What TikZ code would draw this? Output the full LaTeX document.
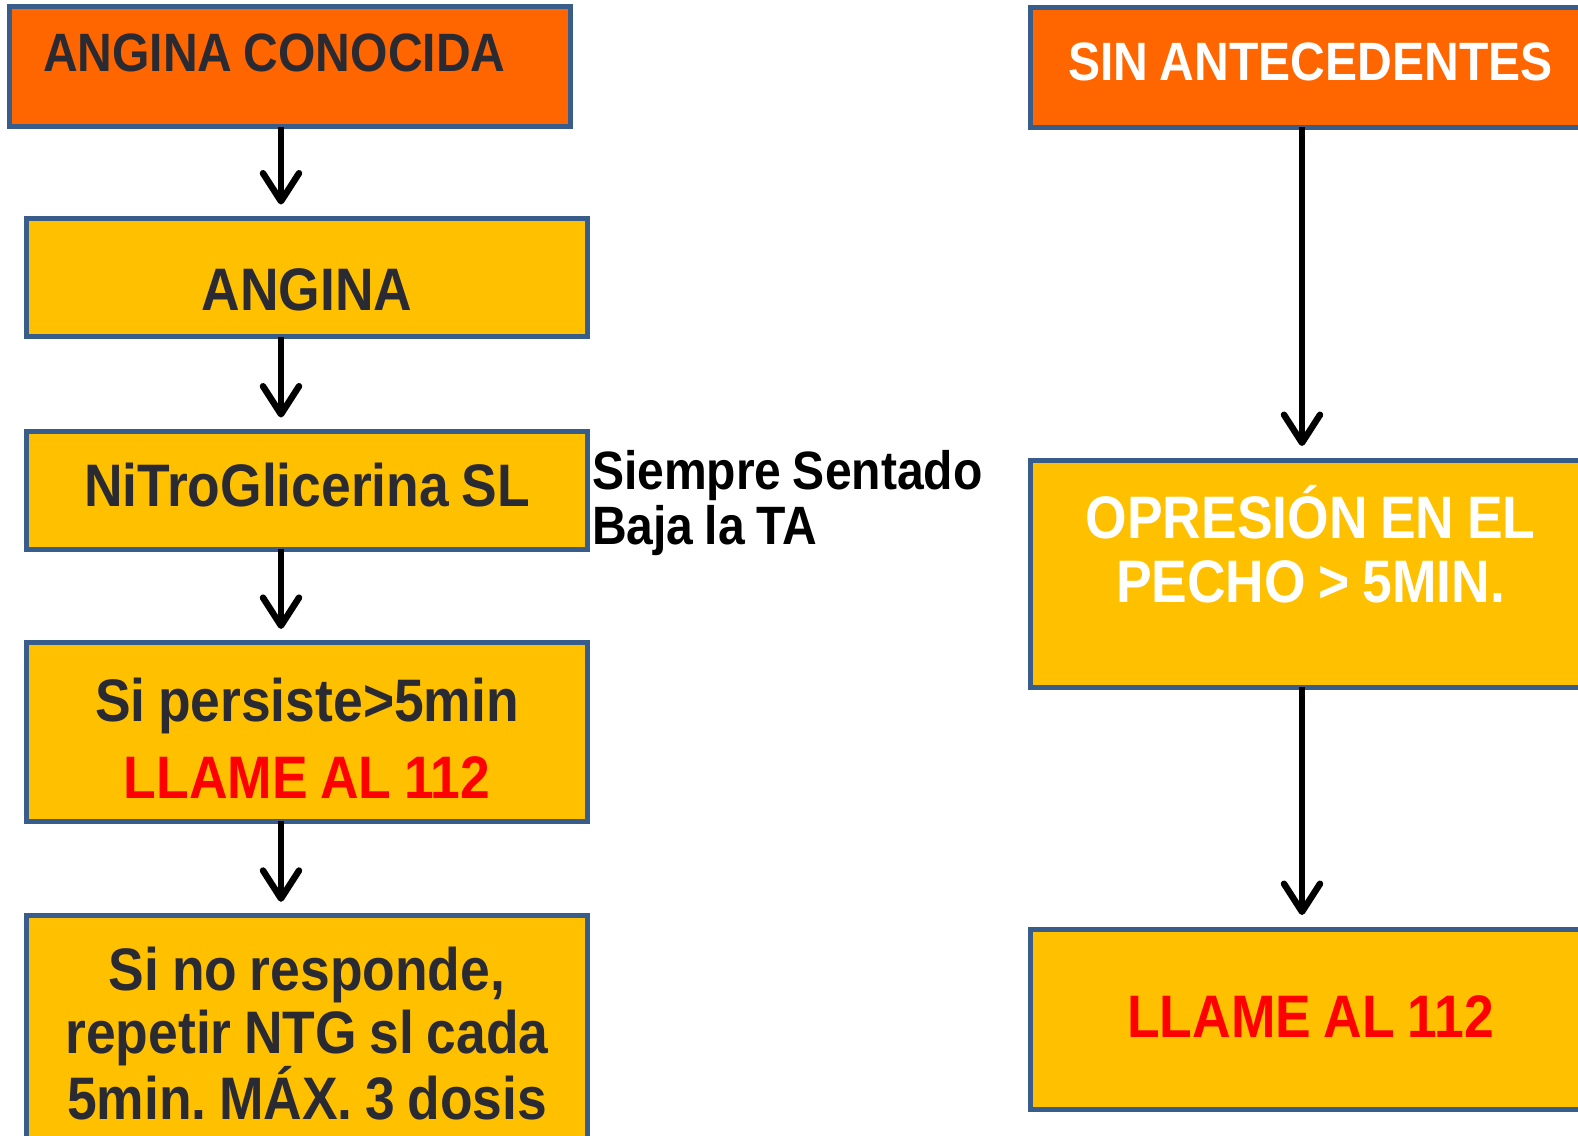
\documentclass[tikz,border=0pt]{standalone}
\usepackage{fontspec}
\setmainfont{Liberation Sans}[FakeStretch=0.89,WordSpace=0.85]
\usetikzlibrary{arrows.meta}
\frenchspacing
\definecolor{orangefill}{HTML}{FF6600}
\definecolor{yellowfill}{HTML}{FFC000}
\definecolor{bordercol}{HTML}{385D8A}
\definecolor{darktxt}{HTML}{2A2A33}
\definecolor{alertred}{HTML}{FF0000}
\newcommand{\Stup}[1]{\rule{0pt}{#1}}
\newcommand{\Stdn}[1]{\rule[-#1]{0pt}{#1}}
\tikzset{
  box/.style={draw=bordercol, line width=5pt, minimum width=561pt, inner sep=0pt, outer sep=0pt,
    align=center, text=darktxt, font=\bfseries\fontsize{60}{63}\selectfont},
  orangebox/.style={box, fill=orangefill},
  yellowbox/.style={box, fill=yellowfill},
  arrowline/.style={line width=6.5pt, -{Straight Barb[length=28pt,width=36pt,round]}, shorten >=14pt},
}
\begin{document}
\begin{tikzpicture}[x=1pt,y=-1pt]
\useasboundingbox (0,0) rectangle (1578,1135);
\clip (0,0) rectangle (1578,1135);
\fill[white] (0,0) rectangle (1578,1135);
% left column
\node[orangebox, minimum height=120pt,
  font=\bfseries\fontsize{54}{57}\selectfont] (b1) at (290,66.5)
  {\makebox[494pt][l]{\Stup{45pt}\Stdn{35pt}ANGINA CONOCIDA}};
\node[yellowbox, minimum height=118.4pt] (b2) at (307,277.7)
  {\Stup{75pt}\Stdn{10.4pt}ANGINA};
\node[yellowbox, minimum height=117.8pt] (b3) at (307,490.4)
  {\Stup{50pt}\Stdn{17.8pt}NiTroGlicerina SL};
\node[yellowbox, minimum height=178.2pt, font=\bfseries\fontsize{60}{77.5}\selectfont] (b4) at (307,732)
  {\Stup{70pt}Si persiste>5min\\\textcolor{alertred}{LLAME AL 112}\Stdn{14.5pt}};
\node[yellowbox, minimum height=279.2pt] (b5) at (307,1055.4)
  {\Stup{50pt}Si no responde,\\repetir NTG sl cada\\5min. MÁX. 3 dosis\Stdn{50.8pt}};
\node[anchor=north west, inner sep=0pt, outer sep=0pt, align=left,
  font=\bfseries\fontsize{54}{55}\selectfont] (side) at (592,444)
  {\Stup{45pt}Siempre Sentado\\Baja la TA};
% right column
\node[orangebox, minimum height=120pt, text=white, font=\bfseries\fontsize{54}{57}\selectfont] (r1) at (1310.5,67)
  {\Stup{45pt}\Stdn{17.8pt}SIN ANTECEDENTES};
\node[yellowbox, minimum height=227pt, text=white, font=\bfseries\fontsize{60}{63.3}\selectfont] (r2) at (1310.5,573.5)
  {\Stup{60pt}OPRESIÓN EN EL\\PECHO > 5MIN.\Stdn{66.3pt}};
\node[yellowbox, minimum height=180pt, text=alertred] (r3) at (1310.5,1019)
  {\Stup{50pt}\Stdn{14pt}LLAME AL 112};
% arrows
\coordinate (lx) at (281,0);
\coordinate (rx) at (1302,0);
\draw[arrowline] (b1.south -| lx) -- (b2.north -| lx);
\draw[arrowline] (b2.south -| lx) -- (b3.north -| lx);
\draw[arrowline] (b3.south -| lx) -- (b4.north -| lx);
\draw[arrowline] (b4.south -| lx) -- (b5.north -| lx);
\draw[arrowline] (r1.south -| rx) -- (r2.north -| rx);
\draw[arrowline] (r2.south -| rx) -- (r3.north -| rx);
\end{tikzpicture}
\end{document}
